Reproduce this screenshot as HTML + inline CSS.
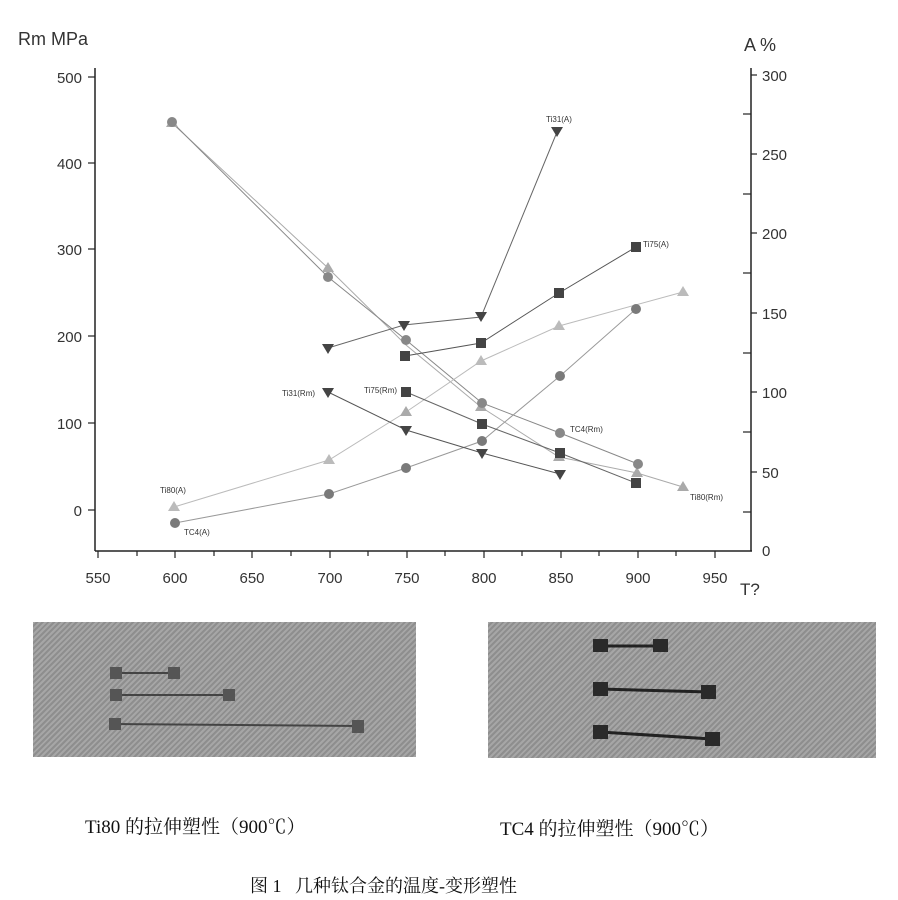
<!DOCTYPE html>
<html><head><meta charset="utf-8"><style>
body{margin:0;background:#fff;width:898px;height:900px;overflow:hidden}
svg{position:absolute;left:0;top:0}
.ph{position:absolute;background:#9a9a9a;background-image:repeating-linear-gradient(135deg,rgba(255,255,255,.12) 0 2px,rgba(0,0,0,.08) 2px 4px)}
.cap{position:absolute;font-family:"Liberation Serif","Noto Serif CJK SC",serif;color:#111;white-space:nowrap}
</style></head><body>
<svg width="898" height="900" font-family="Liberation Sans, sans-serif">
<g stroke="#222" stroke-width="1.5" fill="none">
<line x1="95" y1="68" x2="95" y2="551"/>
<line x1="95" y1="551" x2="752" y2="551"/>
<line x1="751" y1="68" x2="751" y2="551"/>
</g>
<g stroke="#222" stroke-width="1.2">
<line x1="88" y1="77" x2="95" y2="77"/><line x1="88" y1="163" x2="95" y2="163"/><line x1="88" y1="249" x2="95" y2="249"/><line x1="88" y1="336" x2="95" y2="336"/><line x1="88" y1="423" x2="95" y2="423"/><line x1="88" y1="510" x2="95" y2="510"/>
<line x1="751" y1="75" x2="757" y2="75"/><line x1="751" y1="154" x2="757" y2="154"/><line x1="751" y1="233" x2="757" y2="233"/><line x1="751" y1="313" x2="757" y2="313"/><line x1="751" y1="392" x2="757" y2="392"/><line x1="751" y1="472" x2="757" y2="472"/>
<line x1="743" y1="114" x2="751" y2="114"/><line x1="743" y1="194" x2="751" y2="194"/><line x1="743" y1="273" x2="751" y2="273"/><line x1="743" y1="353" x2="751" y2="353"/><line x1="743" y1="432" x2="751" y2="432"/><line x1="743" y1="512" x2="751" y2="512"/>
<line x1="98" y1="551" x2="98" y2="558"/><line x1="137" y1="551" x2="137" y2="556"/><line x1="175" y1="551" x2="175" y2="558"/><line x1="214" y1="551" x2="214" y2="556"/><line x1="252" y1="551" x2="252" y2="558"/><line x1="291" y1="551" x2="291" y2="556"/><line x1="330" y1="551" x2="330" y2="558"/><line x1="368" y1="551" x2="368" y2="556"/><line x1="407" y1="551" x2="407" y2="558"/><line x1="445" y1="551" x2="445" y2="556"/><line x1="484" y1="551" x2="484" y2="558"/><line x1="522" y1="551" x2="522" y2="556"/><line x1="561" y1="551" x2="561" y2="558"/><line x1="599" y1="551" x2="599" y2="556"/><line x1="638" y1="551" x2="638" y2="558"/><line x1="676" y1="551" x2="676" y2="556"/><line x1="715" y1="551" x2="715" y2="558"/>
</g>
<g font-size="15" fill="#333" text-anchor="end">
<text x="82" y="83">500</text><text x="82" y="169">400</text><text x="82" y="255">300</text><text x="82" y="342">200</text><text x="82" y="429">100</text><text x="82" y="516">0</text>
</g>
<g font-size="15" fill="#333" text-anchor="start">
<text x="762" y="81">300</text><text x="762" y="160">250</text><text x="762" y="239">200</text><text x="762" y="319">150</text><text x="762" y="398">100</text><text x="762" y="478">50</text><text x="762" y="556">0</text>
</g>
<g font-size="15" fill="#333" text-anchor="middle">
<text x="98" y="583">550</text><text x="175" y="583">600</text><text x="252" y="583">650</text><text x="330" y="583">700</text><text x="407" y="583">750</text><text x="484" y="583">800</text><text x="561" y="583">850</text><text x="638" y="583">900</text><text x="715" y="583">950</text>
</g>
<text x="18" y="45" font-size="18" fill="#333">Rm  MPa</text>
<text x="744" y="51" font-size="18" fill="#333">A  %</text>
<text x="740" y="595" font-size="17" fill="#333">T?</text>
<g fill="none" stroke-width="1">
<polyline stroke="#aaa" points="172,123 328,268 406,345 481,407 559,457 637,473 683,487"/>
<polyline stroke="#888" points="172,122 328,277 406,340 482,403 560,433 638,464"/>
<polyline stroke="#999" points="175,523 329,494 406,468 482,441 560,376 636,309"/>
<polyline stroke="#bbb" points="174,507 329,460 406,412 481,361 559,326 683,292"/>
<polyline stroke="#666" points="328,348 404,325 481,317 557,132"/>
<polyline stroke="#555" points="328,392 406,430 482,453 560,474"/>
<polyline stroke="#555" points="405,356 481,343 559,293 636,247"/>
<polyline stroke="#666" points="406,392 482,424 560,453 636,483"/>
</g>
<g fill="#aaa">
<path d="M172,117 l6,10 h-12z M328,262 l6,10 h-12z M406,406 l6,10 h-12z M481,401 l6,10 h-12z M559,451 l6,10 h-12z M637,467 l6,10 h-12z M683,481 l6,10 h-12z"/>
<path fill="#bbb" d="M174,501 l6,10 h-12z M329,454 l6,10 h-12z M481,355 l6,10 h-12z M559,320 l6,10 h-12z M683,286 l6,10 h-12z"/>
</g>
<g fill="#888"><circle cx="172" cy="122" r="5"/><circle cx="328" cy="277" r="5"/><circle cx="406" cy="340" r="5"/><circle cx="482" cy="403" r="5"/><circle cx="560" cy="433" r="5"/><circle cx="638" cy="464" r="5"/></g>
<g fill="#7a7a7a"><circle cx="175" cy="523" r="5"/><circle cx="329" cy="494" r="5"/><circle cx="406" cy="468" r="5"/><circle cx="482" cy="441" r="5"/><circle cx="560" cy="376" r="5"/><circle cx="636" cy="309" r="5"/></g>
<g fill="#444">
<path d="M322,344 h12 l-6,10z M398,321 h12 l-6,10z M475,312 h12 l-6,10z M551,127 h12 l-6,10z"/>
<path d="M322,388 h12 l-6,10z M400,426 h12 l-6,10z M476,449 h12 l-6,10z M554,470 h12 l-6,10z"/>
<rect x="400" y="351" width="10" height="10"/><rect x="476" y="338" width="10" height="10"/><rect x="554" y="288" width="10" height="10"/><rect x="631" y="242" width="10" height="10"/>
<rect x="401" y="387" width="10" height="10"/><rect x="477" y="419" width="10" height="10"/><rect x="555" y="448" width="10" height="10"/><rect x="631" y="478" width="10" height="10"/>
</g>
<g font-size="8" fill="#333">
<text x="546" y="122">Ti31(A)</text><text x="643" y="247">Ti75(A)</text><text x="570" y="432">TC4(Rm)</text><text x="690" y="500">Ti80(Rm)</text>
<text x="282" y="396">Ti31(Rm)</text><text x="364" y="393">Ti75(Rm)</text><text x="160" y="493">Ti80(A)</text><text x="184" y="535">TC4(A)</text>
</g>
</svg>
<div class="ph" style="left:33px;top:622px;width:383px;height:135px"></div>
<div class="ph" style="left:488px;top:622px;width:388px;height:136px"></div>
<svg width="898" height="900">
<g stroke="#444" stroke-width="2"><line x1="117" y1="673" x2="175" y2="673"/><line x1="117" y1="695" x2="230" y2="695"/><line x1="116" y1="724" x2="360" y2="726"/></g>
<g fill="#555"><rect x="110" y="667" width="12" height="12"/><rect x="168" y="667" width="12" height="12"/><rect x="110" y="689" width="12" height="12"/><rect x="223" y="689" width="12" height="12"/><rect x="109" y="718" width="12" height="12"/><rect x="352" y="720" width="12" height="13"/></g>
<g stroke="#222" stroke-width="3"><line x1="600" y1="646" x2="660" y2="646"/><line x1="600" y1="689" x2="710" y2="692"/><line x1="600" y1="732" x2="712" y2="739"/></g>
<g fill="#2a2a2a"><rect x="593" y="639" width="15" height="13"/><rect x="653" y="639" width="15" height="13"/><rect x="593" y="682" width="15" height="14"/><rect x="701" y="685" width="15" height="14"/><rect x="593" y="725" width="15" height="14"/><rect x="705" y="732" width="15" height="14"/></g>
</svg>
<div class="cap" style="left:85px;top:812px;font-size:19px">Ti80 的拉伸塑性（900℃）</div>
<div class="cap" style="left:500px;top:814px;font-size:19px">TC4 的拉伸塑性（900℃）</div>
<div class="cap" style="left:250px;top:872px;font-size:18px">图 1 &nbsp;&nbsp;几种钛合金的温度-变形塑性</div>
</body></html>
